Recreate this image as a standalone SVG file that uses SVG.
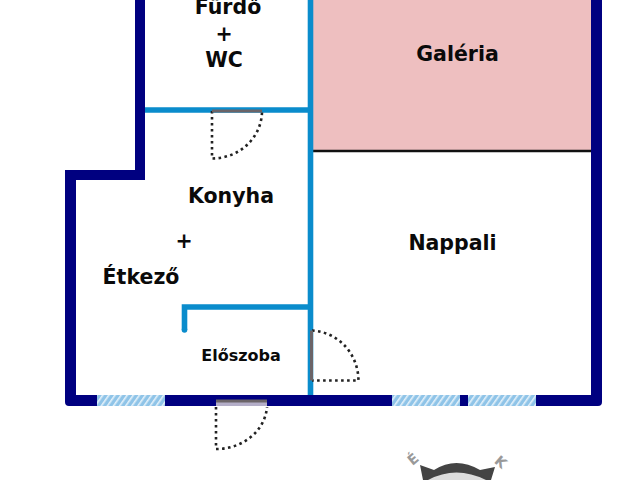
<svg xmlns="http://www.w3.org/2000/svg" width="640" height="480" viewBox="0 0 640 480">
<style>
text{font-family:"DejaVu Sans",sans-serif;font-weight:bold;fill:#0a0a0a;text-anchor:middle}
.l{font-size:20.500px}
.ext{fill:#000080;fill-rule:evenodd}
.int{fill:none;stroke:#0a8ccc;stroke-width:5.600}
.sw{fill:none;stroke:#222;stroke-width:2.600;stroke-dasharray:2.600 3.400}
.leaf{fill:none;stroke:#6b6468;stroke-width:3}
.win{fill:url(#hatch)}
</style>
<defs>
<pattern id="hatch" width="5" height="5" patternUnits="userSpaceOnUse" patternTransform="rotate(35)">
<rect width="5" height="5" fill="#8fc4e8"/><rect width="1.600" height="5" fill="#e4f1fa"/>
</pattern>
</defs>
<g id="galeria"><rect x="312" y="0" width="280" height="151" fill="#eebfc0"/><line x1="312" y1="151" x2="592" y2="151" stroke="#111" stroke-width="2.500"/><text class="l" x="457.500" y="61">Galéria</text></g>
<g id="walls">
<path class="ext" d="M135 0H145V180H76V395H591V0H602V402Q602 406 598 406H69Q65 406 65 402V170H135Z"/>
<path class="int" d="M145 110H310.500M310.500 0V395M310.500 307H184.500V330"/>
<circle cx="184.500" cy="330" r="2.800" fill="#0a8ccc"/>
</g>
<g id="windows">
<rect class="win" x="97" y="395" width="68" height="11"/>
<rect class="win" x="392" y="395" width="68" height="11"/>
<rect class="win" x="468" y="395" width="68" height="11"/>
</g>
<g id="doors">
<g id="door-bath"><path class="sw" d="M212 111V158.500C240 158.500 262 137 262 111"/><line class="leaf" x1="212" y1="111" x2="262" y2="111"/></g>
<g id="door-living"><path class="sw" d="M312 330.500C338 332 358 353 358.500 380.500H312"/><line class="leaf" x1="311.500" y1="330.500" x2="311.500" y2="380.500"/></g>
<g id="door-entry"><rect x="216" y="401" width="51" height="5" fill="#b4aec8"/><path class="sw" d="M216 407V449C243 449 265 431 267 407"/><line class="leaf" x1="216" y1="401" x2="267" y2="401"/></g>
</g>
<g id="furdo"><text class="l" x="228" y="14">Fürdő</text><text class="l" x="224" y="41">+</text><text class="l" x="224" y="67">WC</text></g>
<g id="konyha"><text class="l" x="231" y="203">Konyha</text><text class="l" x="184" y="248">+</text><text class="l" x="141" y="284">Étkező</text></g>
<g id="eloszoba"><text x="241" y="361" font-size="16">Előszoba</text></g>
<g id="nappali"><text class="l" x="452.500" y="250">Nappali</text></g>
<g id="compass">
<path d="M420 465L434 470Q456 456 480 470L495 467L491 480H423Z" fill="#444"/>
<path d="M424 480Q456 462 490 480Z" fill="#444"/>
<path d="M428 480Q456 465 486 480Z" fill="#ddd"/>
<text x="413" y="464" font-size="14" style="fill:#999" transform="rotate(-40 413 459)">É</text>
<text x="501" y="467" font-size="14" style="fill:#999" transform="rotate(40 501 462)">K</text>
</g>
</svg>
